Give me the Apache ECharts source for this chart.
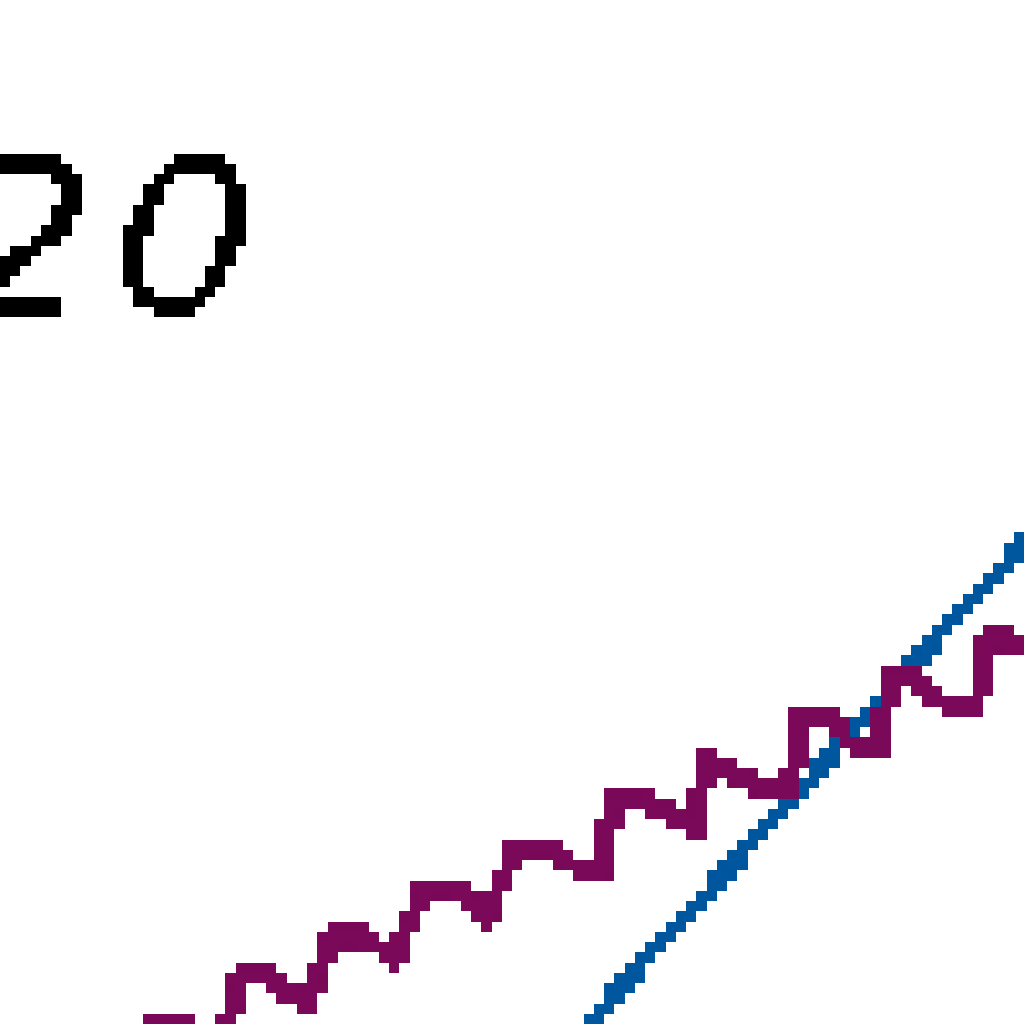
<!DOCTYPE html>
<html>
<head>
<meta charset="utf-8">
<script src="https://cdn.jsdelivr.net/npm/echarts@6/dist/echarts.min.js"></script>
<style>
  html, body { margin: 0; padding: 0; background: #fff; overflow: hidden; }
  #zoom { position: absolute; left: 0; top: 0; width: 100px; height: 100px; transform: scale(10.24); transform-origin: 0 0; }
  #chart { width: 100px; height: 100px; }
  #chart canvas { image-rendering: pixelated; filter: url(#crisp); }
</style>
</head>
<body>
<svg width="0" height="0" style="position:absolute">
  <filter id="crisp" color-interpolation-filters="sRGB">
    <feComponentTransfer>
      <feFuncA type="discrete" tableValues="0 1"></feFuncA>
    </feComponentTransfer>
  </filter>
</svg>
<div id="zoom"><div id="chart"></div></div>
<script>
// seasonal series, decimal year / value
var seasonYears = [2012.03, 2012.08, 2012.49, 2012.82, 2012.96,
  2013.02, 2013.35, 2013.73, 2013.94,
  2014.03, 2014.39, 2014.69, 2014.90,
  2015.01, 2015.35, 2015.69, 2015.89,
  2015.99, 2016.38, 2016.68, 2016.94,
  2017.04, 2017.37, 2017.59, 2017.95,
  2018.03, 2018.25, 2018.66, 2018.97,
  2019.06, 2019.40, 2019.66, 2019.93,
  2020.03, 2020.32, 2020.65, 2020.96,
  2021.06, 2021.34, 2021.75]
var seasonValues = [379.7, 381.5, 381.5, 380.2, 380.2,
  384.0, 384.0, 382.5, 382.5,
  385.9, 385.9, 384.9, 384.8,
  388.3, 388.3, 386.9, 386.9,
  390.3, 390.3, 389.2, 389.2,
  392.5, 392.5, 391.5, 391.2,
  394.6, 394.5, 393.2, 393.2,
  396.6, 396.5, 395.1, 395.1,
  398.5, 398.5, 397.1, 397.1,
  400.4, 400.4, 398.9]
// trend line
var trendYears = [2016, 2017, 2018, 2019, 2020, 2021, 2022]
var trendValues = [377.8, 382.8, 387.8, 392.8, 397.8, 402.8, 407.8]

function pairs(xs, ys) {
  return xs.map(function (x, i) { return [x, ys[i]] })
}

var font = { fontSize: 22, fontStyle: 'italic', fontFamily: 'DejaVu Sans', color: '#000' }

var chart = echarts.init(document.getElementById('chart'), null, { renderer: 'canvas', devicePixelRatio: 1 })
chart.setOption({
  animation: false,
  backgroundColor: 'transparent',
  grid: { left: -22.1, right: -4.74, top: -96.7, bottom: -43.3, outerBoundsMode: 'none', containLabel: false },
  xAxis: {
    type: 'value', min: 2008, max: 2022,
    axisLine: { show: false }, axisTick: { show: false },
    axisLabel: { show: false }, splitLine: { show: false }
  },
  yAxis: {
    type: 'value', min: 360, max: 480, interval: 60,
    axisLine: { show: false }, axisTick: { show: false }, splitLine: { show: false },
    axisLabel: {
      inside: true, margin: 3.6, color: '#000', padding: [4.4, 0, 0, 0],
      fontSize: 22, fontStyle: 'italic', fontFamily: 'DejaVu Sans',
      formatter: function (v) {
        var s = String(v)
        return '{d|' + s.slice(0, -1) + '}{e|' + s.slice(-1) + '}'
      },
      rich: {
        d: font,
        e: Object.assign({ padding: [0, 0, 0, 1.6] }, font)
      }
    }
  },
  series: [
    {
      type: 'line', data: pairs(trendYears, trendValues), showSymbol: false, zlevel: 0, z: 2,
      lineStyle: { color: '#00579e', width: 1.7 }
    },
    {
      type: 'line', data: pairs(seasonYears, seasonValues), showSymbol: false, zlevel: 1, z: 3,
      lineStyle: { color: '#7b0959', width: 2, join: 'miter' }
    }
  ]
})
</script>
</body>
</html>
